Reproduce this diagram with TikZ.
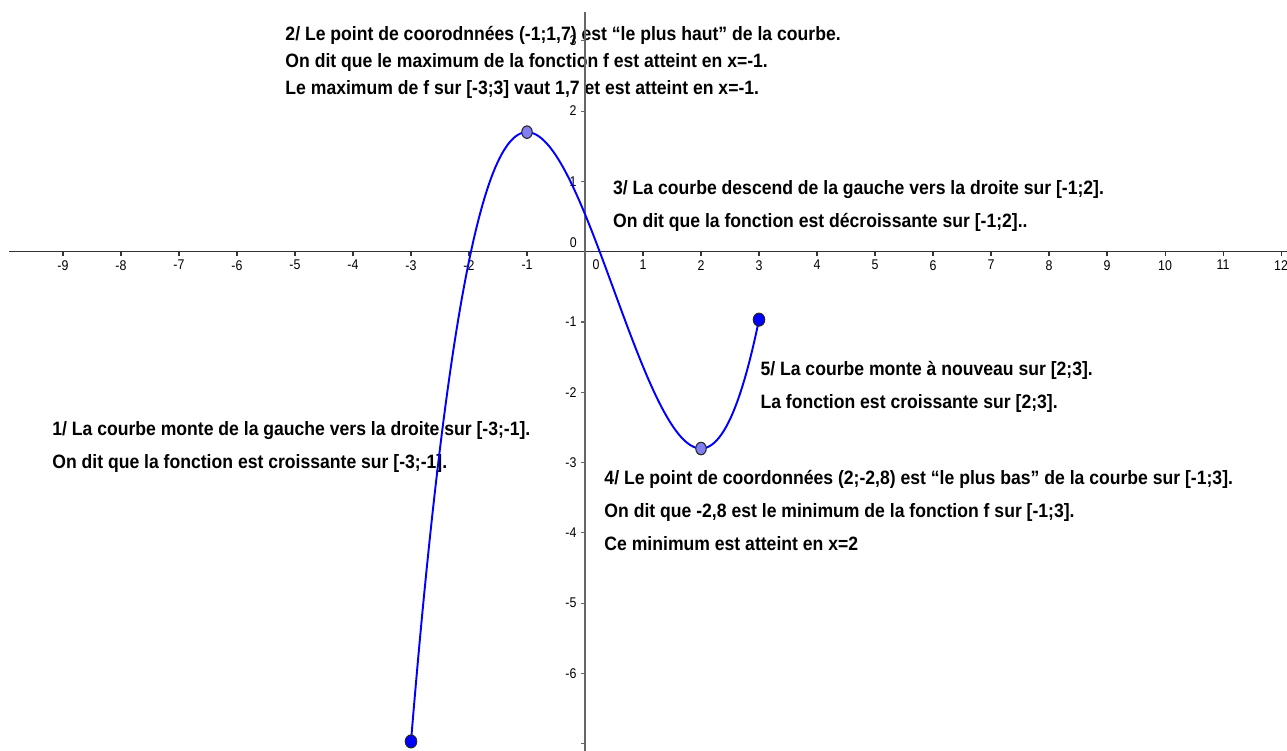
\documentclass[tikz,border=0pt]{standalone}
\usepackage{fontspec}
\newfontfamily\notefont{Liberation Sans}[FakeStretch=0.91]
\newfontfamily\tickfont{Liberation Sans}[FakeStretch=0.88]
\usetikzlibrary{positioning,shapes.geometric}
\definecolor{CurveBlue}{HTML}{0000FF}
\definecolor{PointLight}{HTML}{8080F0}
\definecolor{AxisGray}{HTML}{666666}
\definecolor{AxisDark}{HTML}{333333}

\tikzset{
  note/.style={font=\notefont\bfseries\fontsize{11}{18.8}\selectfont,align=left,anchor=north west,inner sep=0pt},
  notetight/.style={note,font=\notefont\bfseries\fontsize{11}{15.4}\selectfont},
  ticklab/.style={font=\tickfont\fontsize{8}{9}\selectfont,text=black,inner sep=0pt},
  endpt/.style={ellipse,draw=black!85,line width=0.6pt,fill=CurveBlue,minimum width=0.23cm,minimum height=0.26cm,inner sep=0pt},
  extpt/.style={endpt,fill=PointLight,minimum width=0.21cm,minimum height=0.25cm}
}

\begin{document}
\begin{tikzpicture}[x=1.16cm,y=1.406cm]
  \useasboundingbox (-10.086,-7.102) rectangle (12.103,3.580);
  \clip (-10.086,-7.102) rectangle (12.103,3.580);

  % commentaires
  \node[notetight] (txtmax) at (-5.17,3.21)
    {2/ Le point de coorodnnées (-1;1,7) est “le plus haut” de la courbe.\\
     On dit que le maximum de la fonction f est atteint en x=-1.\\
     Le maximum de f sur [-3;3] vaut 1,7 et est atteint en x=-1.};
  \node[note] (txtdec) at (0.48,1.02)
    {3/ La courbe descend de la gauche vers la droite sur [-1;2].\\
     On dit que la fonction est décroissante sur [-1;2]..};
  \node[note] (txtmont) at (3.02,-1.555)
    {5/ La courbe monte à nouveau sur [2;3].\\
     La fonction est croissante sur [2;3].};
  \node[note] (txtcroi) at (-9.19,-2.41)
    {1/ La courbe monte de la gauche vers la droite sur [-3;-1].\\
     On dit que la fonction est croissante sur [-3;-1].};
  \node[note] (txtmin) at (0.33,-3.10)
    {4/ Le point de coordonnées (2;-2,8) est “le plus bas” de la courbe sur [-1;3].\\
     On dit que -2,8 est le minimum de la fonction f sur [-1;3].\\
     Ce minimum est atteint en x=2};

  % axes
  \draw[AxisDark,line width=0.8pt] (-9.93,0) -- (12.2,0);
  \draw[AxisGray,line width=0.8pt] (0,3.41) -- (0,-7.2);
  \foreach \i in {-9,...,-1,1,2,...,12}
    \draw[AxisDark,line width=0.6pt] (\i,0) -- ++(0pt,-2.3pt)
      node[ticklab,below=2.3pt] (xl\i) {\i};
  \foreach \j in {-6,...,-1,1,2,3}
    \draw[AxisGray,line width=0.6pt] (0,\j) -- ++(-2.3pt,0pt)
      node[ticklab,left=2.3pt] (yl\j) {\j};
  \draw[AxisGray,line width=0.6pt] (0,-7) -- ++(-2.3pt,0pt);
  \node[ticklab,anchor=south east] (yl0) at (-4.5pt,2pt) {0};
  \node[ticklab,anchor=north] (xl0) at (6.3pt,-4.5pt) {0};

  % courbe
  \draw[CurveBlue,line width=1.1pt,domain=-3:3,samples=150,smooth]
    plot (\x,{(\x)*(\x)*(\x)/3-(\x)*(\x)/2-2*(\x)+0.5333});

  % points
  \node[endpt] (pa) at (-3,-6.9667) {};
  \node[endpt] (pb) at (3,-0.9667) {};
  \node[extpt] (pmax) at (-1,1.7) {};
  \node[extpt] (pmin) at (2,-2.8) {};
\end{tikzpicture}
\end{document}
